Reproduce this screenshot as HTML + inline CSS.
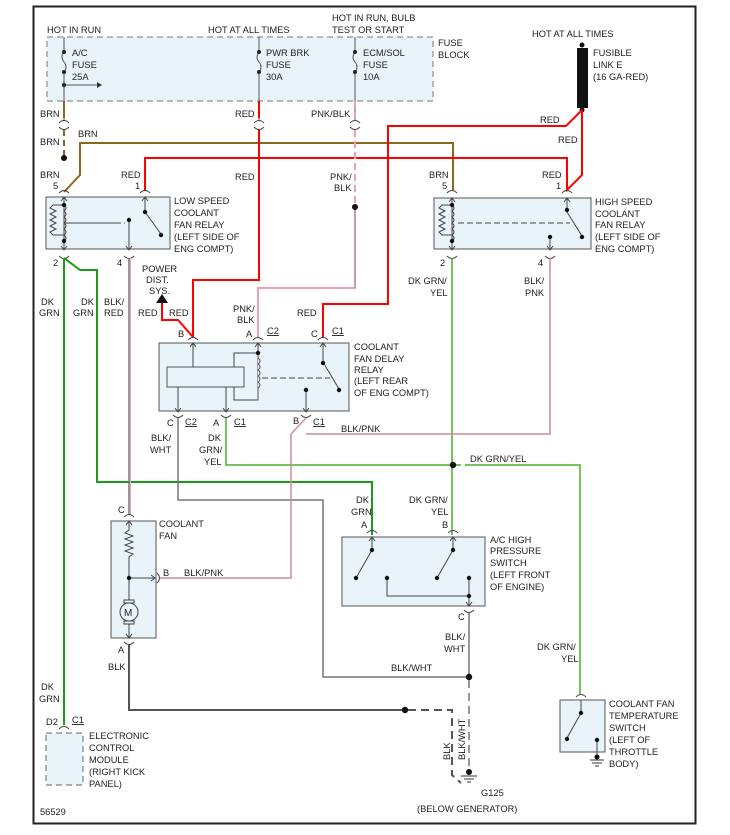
<!DOCTYPE html>
<html><head><meta charset="utf-8"><style>
html,body{margin:0;padding:0;background:#fff}
svg{display:block}
text{font-family:"Liberation Sans",Arial,sans-serif;font-size:9.3px;fill:#222}
.box{fill:#e8f4fa;stroke:#555;stroke-width:1}
.g{stroke:#555;stroke-width:1;fill:none}
.red{stroke:#f00;stroke-width:2;fill:none}
.brn{stroke:#8a6a1a;stroke-width:2;fill:none}
.grn{stroke:#1b9a1b;stroke-width:2;fill:none}
.gy{stroke:#4caf2a;stroke-width:1.5;fill:none}
.pnk{stroke:#f0a0b0;stroke-width:2;fill:none}
.bp{stroke:#c8909a;stroke-width:1.5;fill:none}
.bw{stroke:#777;stroke-width:1.5;fill:none}
.blk{stroke:#555;stroke-width:2;fill:none}
.c{stroke:#444;stroke-width:1;fill:none}
</style></head><body>
<svg width="730" height="835" viewBox="0 0 730 835" xmlns="http://www.w3.org/2000/svg">
<rect x="33.5" y="6.5" width="662" height="817" fill="#fff" stroke="#222" stroke-width="2"/>

<!-- fuse block -->
<rect x="47" y="37" width="386" height="64" fill="#e8f4fa" stroke="#777" stroke-dasharray="6,4"/>
<text x="47" y="33">HOT IN RUN</text>
<text x="208" y="33">HOT AT ALL TIMES</text>
<text x="332" y="21">HOT IN RUN, BULB</text>
<text x="332" y="33">TEST OR START</text>
<text x="438" y="46">FUSE</text><text x="438" y="58">BLOCK</text>
<g class="g">
<path d="M64 37V52M64 72V120M64 52q-4 5 0 10q4 5 0 10M64 85H98"/>
<path d="M259 37V52M259 72V120M259 52q-4 5 0 10q4 5 0 10"/>
<path d="M355 37V52M355 72V120M355 52q-4 5 0 10q4 5 0 10"/>
</g>
<path d="M97 82l5 3l-5 3z" fill="#333"/>
<g fill="#222"><circle cx="64" cy="52" r="2"/><circle cx="64" cy="72" r="2"/><circle cx="64" cy="85" r="2"/>
<circle cx="259" cy="52" r="2"/><circle cx="259" cy="72" r="2"/><circle cx="355" cy="52" r="2"/><circle cx="355" cy="72" r="2"/></g>
<text x="72" y="56">A/C</text><text x="72" y="68">FUSE</text><text x="72" y="80">25A</text>
<text x="266" y="56">PWR BRK</text><text x="266" y="68">FUSE</text><text x="266" y="80">30A</text>
<text x="363" y="56">ECM/SOL</text><text x="363" y="68">FUSE</text><text x="363" y="80">10A</text>

<!-- fusible link -->
<text x="532" y="37">HOT AT ALL TIMES</text>
<rect x="577" y="48" width="11" height="60" fill="#111"/>
<circle cx="582" cy="45" r="2.5" fill="#111"/><circle cx="582" cy="110" r="2.5" fill="#111"/>
<text x="593" y="56">FUSIBLE</text><text x="593" y="68">LINK E</text><text x="593" y="80">(16 GA-RED)</text>

<!-- connector arcs below fuse -->
<g class="c"><path d="M59 123q5-5 10 0M59 127q5 5 10 0M254 123q5-5 10 0M254 127q5 5 10 0M350 123q5-5 10 0M350 127q5 5 10 0"/></g>
<text x="40" y="117">BRN</text><text x="235" y="117">RED</text><text x="311" y="117">PNK/BLK</text>

<!-- brown -->
<path class="brn" d="M64 101V118"/>
<path class="brn" d="M64 130V156" stroke-dasharray="6,4"/>
<circle cx="64" cy="158" r="3" fill="#111"/>
<path class="brn" d="M64 192L80 175V143H453V190"/>
<text x="40" y="145">BRN</text><text x="78" y="137">BRN</text><text x="40" y="178">BRN</text>
<text x="429" y="178">BRN</text>

<!-- red wires -->
<path class="red" d="M259 101V118M259 130V280H193V337"/>
<path class="red" d="M162 300V320H178L193 337"/>
<path d="M156 303l6-9l6 9z" fill="#111"/>
<path class="red" d="M582 110L566 126H388V304H323V337"/>
<path class="red" d="M582 110V175L567 190V158H145V190"/>
<text x="235" y="180">RED</text><text x="121" y="178">RED</text>
<text x="540" y="123">RED</text><text x="558" y="143">RED</text><text x="542" y="178">RED</text>
<text x="138" y="316">RED</text><text x="169" y="316">RED</text><text x="297" y="316">RED</text>
<text x="142" y="272">POWER</text><text x="146" y="283">DIST.</text><text x="149" y="294">SYS.</text>

<!-- pnk/blk -->
<path class="pnk" d="M355 101V118M355 130V205" stroke-dasharray="7,4"/>
<circle cx="355" cy="207" r="3" fill="#111"/>
<path d="M355 210V288H258V337" stroke="#f0a0b0" stroke-width="2" fill="none"/>
<path d="M355 210V288" stroke="#999" stroke-width="1" fill="none"/>
<text x="330" y="180">PNK/</text><text x="334" y="191">BLK</text>
<text x="233" y="312">PNK/</text><text x="237" y="323">BLK</text>

<!-- low speed relay -->
<text x="53" y="189">5</text><text x="135" y="189">1</text>
<rect class="box" x="46" y="197" width="124" height="52"/>
<g class="c"><path d="M59 193q5-5 10 0M140 193q5-5 10 0M59 256q5 5 10 0M124 256q5 5 10 0"/>
<path d="M64 197V250M61 201l3-4l3 4M61 246l3 4l3-4M64 205q4 3 0 6q4 3 0 6q4 3 0 6q4 3 0 6q4 3 0 6q4 3 0 6M64 205H53l-3 3l6 3l-6 3l6 3l-6 3l6 3l-6 3l6 3l-6 3l3 3H64M64 223H120"/>
<path d="M145 197V212L161 234M142 201l3-4l3 4M129 220V250M126 246l3 4l3-4"/></g>
<path class="c" d="M70 223H125" stroke-dasharray="6,3"/>
<g fill="#111"><circle cx="64" cy="205" r="2.2"/><circle cx="64" cy="241" r="2.2"/><circle cx="145" cy="212" r="2.2"/><circle cx="161" cy="235" r="2.2"/><circle cx="129" cy="220" r="2.2"/></g>
<text x="174" y="204">LOW SPEED</text><text x="174" y="216">COOLANT</text><text x="174" y="228">FAN RELAY</text><text x="174" y="240">(LEFT SIDE OF</text><text x="174" y="252">ENG COMPT)</text>
<text x="53" y="266">2</text><text x="117" y="266">4</text>

<!-- high speed relay -->
<text x="442" y="189">5</text><text x="556" y="189">1</text>
<rect class="box" x="434" y="198" width="157" height="51"/>
<g class="c"><path d="M447 193q5-5 10 0M562 193q5-5 10 0M447 256q5 5 10 0M545 256q5 5 10 0"/>
<path d="M452 198V250M449 202l3-4l3 4M449 246l3 4l3-4M452 205q4 3 0 6q4 3 0 6q4 3 0 6q4 3 0 6q4 3 0 6q4 3 0 6M452 205H442l-3 3l6 3l-6 3l6 3l-6 3l6 3l-6 3l6 3l-6 3l3 3H452"/>
<path d="M567 198V212L582 236M564 202l3-4l3 4M550 237V250M547 246l3 4l3-4"/></g>
<path class="c" d="M458 223H570" stroke-dasharray="6,3"/>
<g fill="#111"><circle cx="452" cy="205" r="2.2"/><circle cx="452" cy="241" r="2.2"/><circle cx="567" cy="210" r="2.2"/><circle cx="582" cy="237" r="2.2"/><circle cx="550" cy="237" r="2.2"/></g>
<text x="595" y="205">HIGH SPEED</text><text x="595" y="217">COOLANT</text><text x="595" y="228">FAN RELAY</text><text x="595" y="240">(LEFT SIDE OF</text><text x="595" y="252">ENG COMPT)</text>
<text x="440" y="266">2</text><text x="538" y="266">4</text>

<!-- green from low relay -->
<path class="grn" d="M64 258V725"/>
<path class="grn" d="M64 258L80 270H97V482H372V535"/>
<text x="41" y="305">DK</text><text x="39" y="316">GRN</text>
<text x="81" y="305">DK</text><text x="73" y="316">GRN</text>
<!-- blk/red -->
<path d="M129 258V515" stroke="#777" stroke-width="1.5"/><path d="M130.5 258V515" stroke="#f0a0b0" stroke-width="1"/>
<text x="104" y="305">BLK/</text><text x="104" y="316">RED</text>

<!-- high relay bottom wires -->
<path class="gy" d="M452 258V535"/>
<text x="408" y="284">DK GRN/</text><text x="430" y="296">YEL</text>
<path class="bp" d="M550 258V434H306"/>
<text x="524" y="284">BLK/</text><text x="525" y="296">PNK</text>

<!-- delay relay -->
<rect class="box" x="159" y="343" width="190" height="68"/>
<g class="c"><path d="M188 340q5-5 10 0M253 340q5-5 10 0M318 340q5-5 10 0M173 415q5 5 10 0M221 415q5 5 10 0M301 415q5 5 10 0"/>
<path d="M193 343V367M190 347l3-4l3 4M258 343V353M255 347l3-4l3 4M258 353H234V400H258V353"/>
<path d="M323 343V362L339 389M320 347l3-4l3 4"/>
<path d="M178 387V412M175 408l3 4l3-4M226 387V412M223 408l3 4l3-4M306 391V412M303 408l3 4l3-4"/></g>
<rect x="167" y="367" width="77" height="20" fill="#e8f4fa" stroke="#555"/>
<path d="M258 353V358q4 3 0 6q4 3 0 6q4 3 0 6q4 3 0 6q4 3 0 6V400" fill="#e8f4fa" stroke="#555"/>
<path class="c" d="M262 378H330" stroke-dasharray="6,3"/>
<g fill="#111"><circle cx="258" cy="353" r="2.2"/><circle cx="323" cy="363" r="2.2"/><circle cx="339" cy="390" r="2.2"/><circle cx="306" cy="390" r="2.2"/></g>
<text x="178" y="337">B</text><text x="246" y="337">A</text><text x="267" y="334" text-decoration="underline">C2</text>
<text x="311" y="337">C</text><text x="332" y="334" text-decoration="underline">C1</text>
<text x="354" y="350">COOLANT</text><text x="354" y="362">FAN DELAY</text><text x="354" y="373">RELAY</text><text x="354" y="384">(LEFT REAR</text><text x="354" y="396">OF ENG COMPT)</text>
<text x="167" y="426">C</text><text x="185" y="425" text-decoration="underline">C2</text>
<text x="213" y="426">A</text><text x="234" y="425" text-decoration="underline">C1</text>
<text x="293" y="424">B</text><text x="313" y="425" text-decoration="underline">C1</text>
<text x="341" y="432">BLK/PNK</text>

<!-- delay relay bottom -->
<path class="bw" d="M178 418V500H323V677H469"/>
<text x="151" y="441">BLK/</text><text x="150" y="453">WHT</text>
<path class="gy" d="M226 418V465H580V695"/>
<circle cx="453" cy="465" r="3.2" fill="#111"/>
<rect x="461" y="458" width="4" height="14" fill="#fff"/>
<text x="208" y="441">DK</text><text x="199" y="453">GRN/</text><text x="204" y="465">YEL</text>
<text x="470" y="462">DK GRN/YEL</text>
<path class="bp" d="M306 418L291 434V578H160"/>

<!-- coolant fan -->
<rect class="box" x="111" y="521" width="45" height="117"/>
<g class="c"><path d="M124 517q5-5 10 0M124 642q5 5 10 0M157 573q5 5 0 10"/>
<path d="M129 521V530l-4 3l8 3l-8 3l8 3l-8 3l8 3l-8 3l8 3l-4 3V602M126 525l3-4l3 4M129 578H155M151 575l4 3l-4 3M129 622V638M126 634l3 4l3-4"/></g>
<circle cx="129" cy="612" r="9" fill="#e8f4fa" stroke="#444"/>
<rect x="124" y="600" width="10" height="3" fill="#e8f4fa" stroke="#444"/><rect x="124" y="621" width="10" height="3" fill="#e8f4fa" stroke="#444"/>
<text x="124" y="616" style="font-size:10px">M</text>
<circle cx="129" cy="578" r="2.2" fill="#111"/>
<text x="118" y="513">C</text><text x="159" y="527">COOLANT</text><text x="159" y="539">FAN</text>
<text x="163" y="576">B</text><text x="184" y="576">BLK/PNK</text>
<text x="118" y="653">A</text><text x="108" y="670">BLK</text>
<path class="blk" d="M129 645V710H404"/>
<circle cx="405" cy="710" r="3.2" fill="#111"/>
<path class="blk" d="M408 710H452V775L461 783" stroke-dasharray="8,5"/>

<!-- A/C high pressure switch -->
<rect class="box" x="342" y="537" width="143" height="69"/>
<g class="c"><path d="M367 533q5-5 10 0M448 533q5-5 10 0M464 610q5 5 10 0"/>
<path d="M372 537V550L356 578M369 541l3-4l3 4M453 537V550L437 578M450 541l3-4l3 4M387 578V596H469M469 578V606M466 602l3 4l3-4"/></g>
<g fill="#111"><circle cx="372" cy="550" r="2.2"/><circle cx="356" cy="578" r="2.2"/><circle cx="453" cy="550" r="2.2"/><circle cx="437" cy="578" r="2.2"/><circle cx="387" cy="578" r="2.2"/><circle cx="469" cy="578" r="2.2"/><circle cx="469" cy="596" r="2.2"/></g>
<text x="356" y="503">DK</text><text x="351" y="515">GRN</text><text x="361" y="528">A</text>
<text x="409" y="503">DK GRN/</text><text x="431" y="515">YEL</text><text x="442" y="528">B</text>
<text x="490" y="543">A/C HIGH</text><text x="490" y="554">PRESSURE</text><text x="490" y="566">SWITCH</text><text x="490" y="578">(LEFT FRONT</text><text x="490" y="590">OF ENGINE)</text>
<text x="458" y="620">C</text>
<path class="bw" d="M469 613V675"/>
<text x="445" y="640">BLK/</text><text x="444" y="652">WHT</text>
<text x="391" y="671">BLK/WHT</text>
<circle cx="469" cy="677" r="3.2" fill="#111"/>
<path class="bw" d="M469 680V770" stroke-dasharray="8,5"/>
<text transform="translate(450,760) rotate(-90)">BLK</text>
<text transform="translate(465,760) rotate(-90)">BLK/WHT</text>
<circle cx="469" cy="772" r="3" fill="#111"/>
<path d="M461 776H477M464 779H474M467 782H471" stroke="#333"/>
<text x="481" y="796">G125</text>
<text x="417" y="812">(BELOW GENERATOR)</text>

<!-- temp switch -->
<text x="537" y="650">DK GRN/</text><text x="561" y="662">YEL</text>
<rect class="box" x="560" y="700" width="45" height="52"/>
<g class="c"><path d="M576 697q5-5 10 0M581 700V713L567 738M597 740V758"/></g>
<g fill="#111"><circle cx="581" cy="713" r="2.2"/><circle cx="567" cy="739" r="2.2"/><circle cx="597" cy="740" r="2.2"/><circle cx="597" cy="757" r="2.5"/></g>
<path d="M590 760H604M592 763H602M595 766H599" stroke="#333"/>
<text x="609" y="707">COOLANT FAN</text><text x="609" y="719">TEMPERATURE</text><text x="609" y="731">SWITCH</text><text x="609" y="743">(LEFT OF</text><text x="609" y="755">THROTTLE</text><text x="609" y="767">BODY)</text>

<!-- ECM -->
<text x="41" y="690">DK</text><text x="39" y="702">GRN</text>
<text x="46" y="725">D2</text><text x="72" y="723" text-decoration="underline">C1</text>
<path class="c" d="M59 729q5-5 10 0"/>
<rect x="46" y="733" width="37" height="52" fill="#e8f4fa" stroke="#666" stroke-dasharray="6,4"/>
<text x="89" y="739">ELECTRONIC</text><text x="89" y="751">CONTROL</text><text x="89" y="763">MODULE</text><text x="89" y="775">(RIGHT KICK</text><text x="89" y="787">PANEL)</text>
<text x="40" y="815">56529</text>
</svg>
</body></html>
